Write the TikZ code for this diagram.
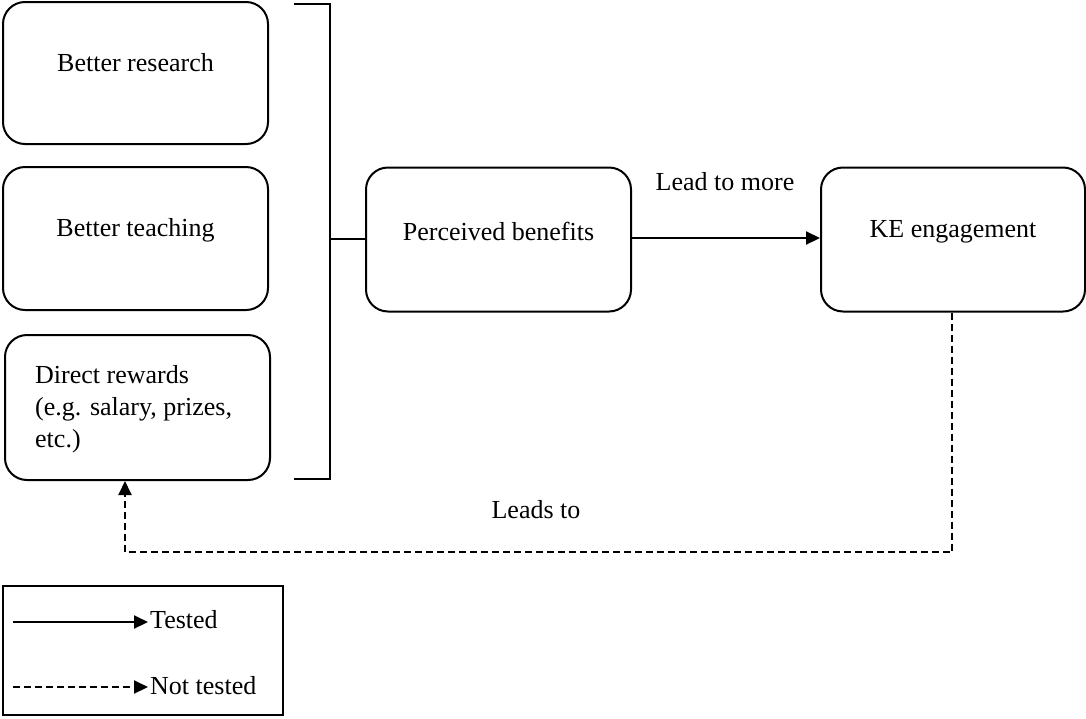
\documentclass[tikz,border=0pt]{standalone}
\usepackage{fontspec}
\setmainfont{Liberation Serif}
\usetikzlibrary{arrows.meta}
\begin{document}
\begin{tikzpicture}[x=1pt,y=-1pt,
  every node/.style={font=\fontsize{26}{32}\selectfont},
  rbox/.style={draw, line width=2pt, rounded corners=22pt, inner sep=0pt},
  conn/.style={line width=2pt},
  tip/.style={-{Triangle[length=14pt,width=13pt]}},
  dsh/.style={line width=2pt, dash pattern=on 7pt off 4pt}]
\useasboundingbox (0,0) rectangle (1086,718);
% left boxes
\node[rbox, minimum width=265pt, minimum height=142pt,
  label={[yshift=10pt]center:Better research}] (res) at (135.5,73) {};
\node[rbox, minimum width=265pt, minimum height=143pt,
  label={[yshift=8pt]center:Better teaching}] (teach) at (135.5,238.5) {};
\node[rbox, minimum width=265pt, minimum height=145pt] (dir) at (137.5,407.5) {};
\node[anchor=north west, align=left, inner sep=0pt] (dirtxt) at (35,365)
  {Direct rewards\\(e.g. salary, prizes,\\etc.)};
% bracket
\coordinate (bt) at (294,4);
\coordinate (bb) at (294,479);
\coordinate (bm) at (330,239);
\draw[conn] (bt) -- (330,4) -- (330,479) -- (bb);
% middle and right boxes
\node[rbox, minimum width=265pt, minimum height=144pt,
  label={[yshift=8pt]center:Perceived benefits}] (pb) at (498.5,239.5) {};
\node[rbox, minimum width=264pt, minimum height=144pt,
  label={[yshift=8pt]center:KE engagement}] (ke) at (953,239.5) {};
\draw[conn] (bm) -- (pb.west |- bm);
\draw[conn, tip] (pb.east |- 0,238) -- (ke.west |- 0,238);
\node (lead) at (725,182) {Lead to more};
% feedback dashed
\coordinate (fr) at (952,552);
\coordinate (fl) at (125,552);
\draw[dsh, tip] (ke.south -| fr) -- (fr) -- (fl) -- (dir.south -| fl);
\node (leads) at (536,510) {Leads to};
% legend
\node[draw, line width=2pt, minimum width=280pt, minimum height=129pt, inner sep=0pt] (leg) at (143,650.5) {};
\coordinate (t1) at (13,622);
\coordinate (t2) at (148,622);
\coordinate (n1) at (13,687);
\coordinate (n2) at (148,687);
\draw[conn, tip] (t1) -- (t2);
\draw[dsh, tip] (n1) -- (n2);
\node[anchor=west, inner sep=0pt] (ltested) at (150,620) {Tested};
\node[anchor=west, inner sep=0pt] (lnot) at (150,686) {Not tested};
\end{tikzpicture}
\end{document}
